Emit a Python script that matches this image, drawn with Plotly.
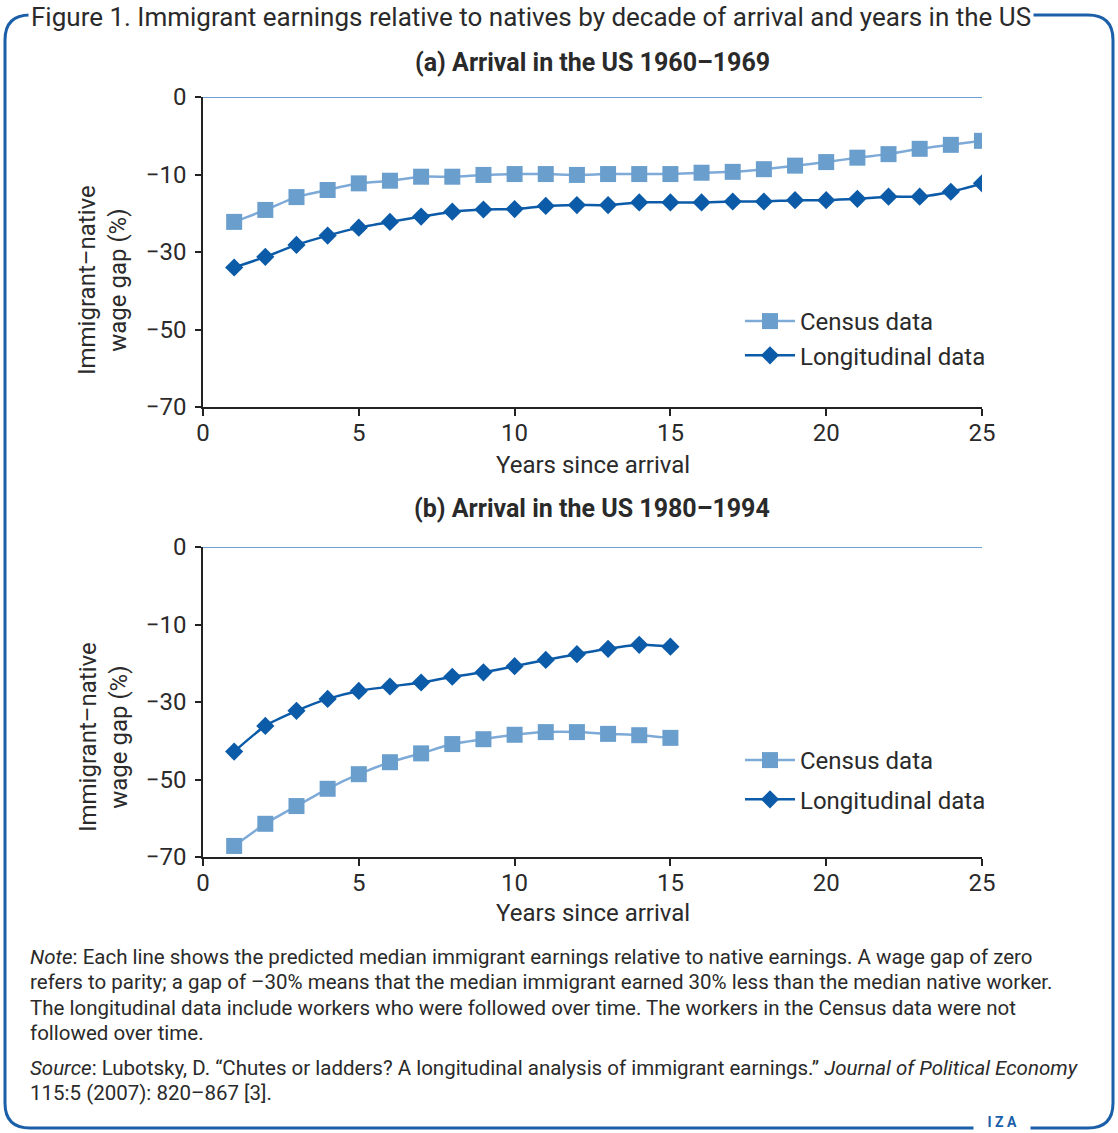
import plotly.graph_objects as go

# ---------------- data ----------------
years_a = list(range(1, 26))
census_a = [-28.2, -25.5, -22.6, -21.0, -19.5, -18.9, -18.0, -18.0, -17.6, -17.4,
            -17.4, -17.6, -17.4, -17.4, -17.4, -17.1, -16.9, -16.3, -15.5, -14.7,
            -13.7, -12.9, -11.7, -10.8, -9.9]
longit_a = [-38.5, -36.1, -33.4, -31.3, -29.5, -28.2, -27.0, -25.9, -25.4, -25.3,
            -24.6, -24.4, -24.4, -23.8, -23.8, -23.8, -23.6, -23.6, -23.3, -23.3,
            -23.0, -22.5, -22.5, -21.4, -19.5]

years_b = list(range(1, 16))
census_b = [-67.5, -62.5, -58.5, -54.6, -51.3, -48.6, -46.6, -44.5, -43.4, -42.4,
            -41.8, -41.8, -42.2, -42.5, -43.1]
longit_b = [-46.2, -40.4, -37.0, -34.3, -32.5, -31.5, -30.6, -29.3, -28.3, -26.9,
            -25.5, -24.2, -23.0, -22.1, -22.5]

y_tickvals = [0, -17.5, -35, -52.5, -70]
y_ticktext = ["0", "\u221210", "\u221230", "\u221250", "\u221270"]
x_tickvals = [0, 5, 10, 15, 20, 25]

series_names = ["Census data", "Longitudinal data"]

note_lines = [
    "<i>Note</i>: Each line shows the predicted median immigrant earnings relative to native earnings. A wage gap of zero",
    "refers to parity; a gap of \u201330% means that the median immigrant earned 30% less than the median native worker.",
    "The longitudinal data include workers who were followed over time. The workers in the Census data were not",
    "followed over time.",
]
source_lines = [
    "<i>Source</i>: Lubotsky, D. \u201cChutes or ladders? A longitudinal analysis of immigrant earnings.\u201d "
    "<i>Journal of Political Economy</i>",
    "115:5 (2007): 820\u2013867 [3].",
]

# ---------------- styling ----------------
W, H = 1118, 1133
FONT = "Roboto, Liberation Sans, sans-serif"
TXT = "#2a2a2a"
C_CENSUS = "#699ecd"
C_CENSUS_LINE = "#7eaad8"
C_LONG = "#0b5ba8"
FRAME = "#1b5fa9"


def px(x):
    return x / W


def py(y):
    return 1 - y / H


fig = go.Figure()

panels = [
    ("x", "y", years_a, census_a, longit_a, "legend"),
    ("x2", "y2", years_b, census_b, longit_b, "legend2"),
]
for xa, ya, yrs, cen, lon, leg in panels:
    fig.add_trace(go.Scatter(
        x=yrs, y=cen, xaxis=xa, yaxis=ya, name=series_names[0], legend=leg,
        mode="lines+markers", line=dict(color=C_CENSUS_LINE, width=2.5, shape="spline", smoothing=0.6),
        marker=dict(symbol="square", size=16, color=C_CENSUS), legendgroup="c",
    ))
    fig.add_trace(go.Scatter(
        x=yrs, y=lon, xaxis=xa, yaxis=ya, name=series_names[1], legend=leg,
        mode="lines+markers", line=dict(color=C_LONG, width=2.5, shape="spline", smoothing=0.6),
        marker=dict(symbol="diamond", size=14, color=C_LONG), legendgroup="l",
    ))

xdom = [px(203), px(982)]
ydom_a = [py(407), py(97)]
ydom_b = [py(857), py(547)]

axis_common_x = dict(
    range=[0, 25], tickvals=x_tickvals, showline=True, linecolor="#222", linewidth=1.5,
    ticks="outside", ticklen=7, tickwidth=1.5, tickcolor="#222", showgrid=False, zeroline=False,
    tickfont=dict(family=FONT, size=24, color=TXT), fixedrange=True, automargin=False,
    ticklabelstandoff=-4,
)
axis_common_y = dict(
    range=[-70, 0], tickvals=y_tickvals, ticktext=y_ticktext, showline=True, linecolor="#222",
    linewidth=1.5, ticks="outside", ticklen=6, tickwidth=1.5, tickcolor="#222", showgrid=False,
    zeroline=False, tickfont=dict(family=FONT, size=24, color=TXT), fixedrange=True,
    automargin=False, ticklabelstandoff=4,
)

fig.update_layout(
    width=W, height=H, margin=dict(l=0, r=0, t=0, b=0, autoexpand=False),
    paper_bgcolor="white", plot_bgcolor="white",
    xaxis=dict(domain=xdom, anchor="y", **axis_common_x),
    yaxis=dict(domain=ydom_a, anchor="x", **axis_common_y),
    xaxis2=dict(domain=xdom, anchor="y2", **axis_common_x),
    yaxis2=dict(domain=ydom_b, anchor="x2", **axis_common_y),
    legend=dict(x=px(740), y=py(299), xanchor="left", yanchor="top",
                font=dict(family=FONT, size=24, color=TXT), bgcolor="rgba(0,0,0,0)",
                tracegroupgap=0, itemwidth=50),
    legend2=dict(x=px(740), y=py(738), xanchor="left", yanchor="top",
                 font=dict(family=FONT, size=24, color=TXT), bgcolor="rgba(0,0,0,0)",
                 tracegroupgap=5, itemwidth=50),
    showlegend=True,
)

# blue reference line at zero in each panel
for ya in ["y", "y2"]:
    fig.add_shape(type="line", xref="x domain" if ya == "y" else "x2 domain", yref=ya,
                  x0=0, x1=1, y0=0, y1=0, line=dict(color="#3c7fc2", width=1.5))

# rounded frame
L, R, T, B, r = 5, 1113, 15, 1128, 25
path = (f"M {px(L)},{py(T + r)} Q {px(L)},{py(T)} {px(L + r)},{py(T)} "
        f"L {px(R - r)},{py(T)} Q {px(R)},{py(T)} {px(R)},{py(T + r)} "
        f"L {px(R)},{py(B - r)} Q {px(R)},{py(B)} {px(R - r)},{py(B)} "
        f"L {px(L + r)},{py(B)} Q {px(L)},{py(B)} {px(L)},{py(B - r)} Z")
fig.add_shape(type="path", xref="paper", yref="paper", path=path,
              line=dict(color=FRAME, width=3), layer="below")

P = dict(xref="paper", yref="paper", showarrow=False)
ann = []
ann.append(dict(text="Figure 1. Immigrant earnings relative to natives by decade of arrival and years in the US",
                x=px(28), y=py(17), xanchor="left", yanchor="middle",
                font=dict(family=FONT, size=26, color=TXT), bgcolor="white", borderpad=2, **P))
ann.append(dict(text="<b>(a) Arrival in the US 1960\u20131969</b>", x=px(592), y=py(62),
                xanchor="center", yanchor="middle",
                font=dict(family=FONT, size=25, color=TXT), **P))
ann.append(dict(text="<b>(b) Arrival in the US 1980\u20131994</b>", x=px(592), y=py(508),
                xanchor="center", yanchor="middle",
                font=dict(family=FONT, size=25, color=TXT), **P))
for yc in [280, 737]:
    ann.append(dict(text="Immigrant\u2013native<br>wage gap (%)", x=px(103), y=py(yc),
                    xanchor="center", yanchor="middle", textangle=-90,
                    font=dict(family=FONT, size=24, color=TXT), **P))
for yc in [465, 913]:
    ann.append(dict(text="Years since arrival", x=px(593), y=py(yc), xanchor="center",
                    yanchor="middle", font=dict(family=FONT, size=24, color=TXT), **P))

for line, yc in zip(note_lines, [957, 982, 1008, 1033]):
    ann.append(dict(text=line, x=px(28), y=py(yc), xanchor="left", yanchor="middle",
                    font=dict(family=FONT, size=20.5, color=TXT), **P))
for line, yc in zip(source_lines, [1068, 1093]):
    ann.append(dict(text=line, x=px(28), y=py(yc), xanchor="left", yanchor="middle",
                    font=dict(family=FONT, size=20.5, color=TXT), **P))
ann.append(dict(text="\u00a0\u00a0\u00a0<b>I Z A</b>\u00a0\u00a0\u00a0", x=px(1002), y=py(1122),
                xanchor="center", yanchor="middle",
                font=dict(family=FONT, size=14, color=FRAME), bgcolor="white",
                borderpad=3, **P))
fig.update_layout(annotations=ann)

fig.write_html("out.html", config={"displayModeBar": False},
               post_script="document.body.style.margin='0';document.body.style.overflow='hidden';")
